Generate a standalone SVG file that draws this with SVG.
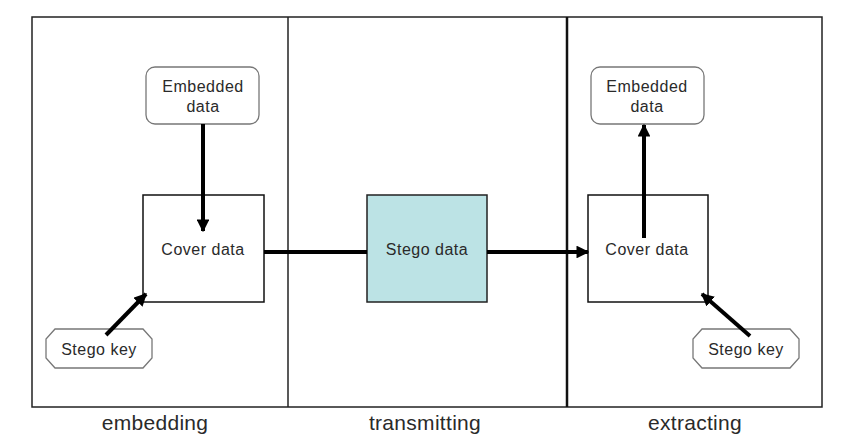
<svg xmlns="http://www.w3.org/2000/svg" width="850" height="444" viewBox="0 0 850 444">
<defs>
<style>
.t{font-family:"Liberation Sans",Arial,sans-serif;fill:#2a2a2a;text-anchor:middle}
.n{font-size:16px;letter-spacing:0.5px}
.lab{font-size:21px;letter-spacing:0.3px}
.box{fill:#fff;stroke:#111;stroke-width:1.5}
.rb{fill:#fff;stroke:#777;stroke-width:1.3}
.c{stroke:#000;stroke-width:4;fill:none}
</style>
<marker id="ah" viewBox="0 0 10 10" refX="9" refY="5" markerWidth="3.2" markerHeight="3.2" orient="auto" markerUnits="strokeWidth">
<path d="M0,0 L10,5 L0,10 Z" fill="#000"/>
</marker>
</defs>
<rect width="850" height="444" fill="#fff"/>
<g id="frame">
<rect x="32" y="17" width="790" height="390" fill="none" stroke="#222" stroke-width="1.5"/>
<line x1="288" y1="17" x2="288" y2="407" stroke="#222" stroke-width="1.5"/>
<line x1="567" y1="17" x2="567" y2="407" stroke="#111" stroke-width="2.5"/>
</g>
<g id="embedded-left">
<rect x="146" y="67" width="113" height="57" rx="9" class="rb"/>
<text class="t n" x="203" y="92">Embedded</text>
<text class="t n" x="203" y="112">data</text>
</g>
<g id="cover-left">
<rect x="143" y="195" width="121" height="107" class="box"/>
<text class="t n" x="203" y="255">Cover data</text>
</g>
<g id="stegokey-left">
<polygon points="55,329 143,329 152,339 152,358 143,368 55,368 46,358 46,339" class="rb"/>
<text class="t n" x="99" y="355">Stego key</text>
</g>
<g id="stego-data">
<rect x="367" y="195" width="120" height="107" fill="#bce3e5" stroke="#222" stroke-width="1.5"/>
<text class="t n" x="427" y="255">Stego data</text>
</g>
<g id="embedded-right">
<rect x="591" y="67" width="113" height="57" rx="9" class="rb"/>
<text class="t n" x="647" y="92">Embedded</text>
<text class="t n" x="647" y="112">data</text>
</g>
<g id="cover-right">
<rect x="588" y="195" width="120" height="107" class="box"/>
<text class="t n" x="647" y="255">Cover data</text>
</g>
<g id="stegokey-right">
<polygon points="702,329 790,329 799,339 799,358 790,368 702,368 693,358 693,339" class="rb"/>
<text class="t n" x="746" y="355">Stego key</text>
</g>
<g id="connectors">
<line x1="203" y1="124" x2="203" y2="231" class="c" marker-end="url(#ah)"/>
<line x1="106" y1="335" x2="146" y2="294" class="c" marker-end="url(#ah)"/>
<line x1="264" y1="252" x2="367" y2="252" class="c"/>
<line x1="487" y1="252" x2="588" y2="252" class="c" marker-end="url(#ah)"/>
<line x1="644" y1="238" x2="644" y2="125" class="c" marker-end="url(#ah)"/>
<line x1="750" y1="336" x2="702" y2="294" class="c" marker-end="url(#ah)"/>
</g>
<g id="labels">
<text class="t lab" x="155" y="430">embedding</text>
<text class="t lab" x="425" y="430">transmitting</text>
<text class="t lab" x="695" y="430">extracting</text>
</g>
</svg>
